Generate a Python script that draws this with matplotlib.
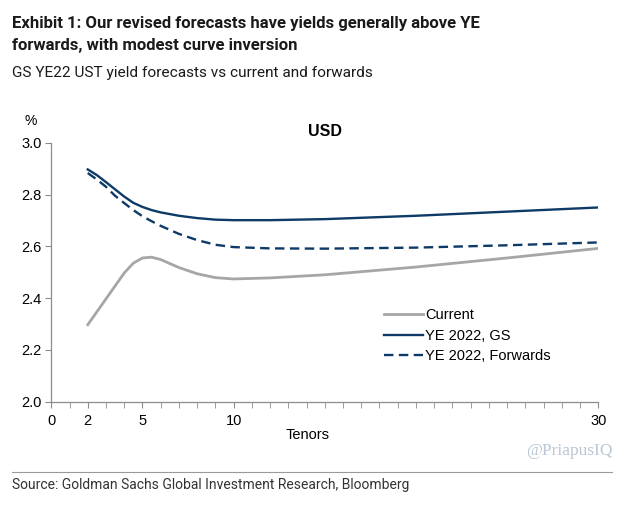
import matplotlib
matplotlib.use("Agg")
import matplotlib.pyplot as plt
from matplotlib.ticker import MultipleLocator

# ── Data ──────────────────────────────────────────────────────────────────────
tenors   = [2, 2.5, 3, 3.5, 4, 4.5, 5, 5.5, 6, 7, 8, 9, 10, 12, 15, 20, 25, 30]
current  = [2.297, 2.347, 2.397, 2.447, 2.497, 2.535, 2.555, 2.558, 2.549,
            2.518, 2.494, 2.479, 2.474, 2.478, 2.490, 2.520, 2.555, 2.592]
ye22_gs  = [2.897, 2.875, 2.848, 2.820, 2.792, 2.768, 2.752, 2.740, 2.731,
            2.718, 2.709, 2.703, 2.701, 2.701, 2.705, 2.718, 2.734, 2.750]
ye22_fwd = [2.883, 2.858, 2.830, 2.795, 2.767, 2.740, 2.716, 2.697, 2.679,
            2.648, 2.624, 2.606, 2.597, 2.592, 2.591, 2.595, 2.604, 2.615]
xticks   = [0, 2, 5, 10, 30]
yticks   = [2.0, 2.2, 2.4, 2.6, 2.8, 3.0]

navy = "#0d3a66"
grey = "#a6a6a6"
head = ["Roboto", "DejaVu Sans"]
arial = ["Liberation Sans", "DejaVu Sans"]

fig = plt.figure(figsize=(6.3, 5.08), dpi=100)
ax = fig.add_axes([0.0814, 0.2093, 0.8683, 0.5097])

ax.plot(tenors, current, color=grey, lw=2.0, label="Current")
ax.plot(tenors, ye22_gs, color=navy, lw=1.7, label="YE 2022, GS")
ax.plot(tenors, ye22_fwd, color=navy, lw=1.7, ls=(0, (4, 2.3)), label="YE 2022, Forwards")

ax.set_xlim(0, 30)
ax.set_ylim(2.0, 3.0)
ax.set_xticks(xticks)
ax.set_xticklabels([str(t) for t in xticks], family=arial, fontsize=10.5)
ax.xaxis.set_minor_locator(MultipleLocator(1))
ax.set_yticks(yticks)
ax.set_yticklabels([f"{v:.1f}" for v in yticks], family=arial, fontsize=10.5)
for s in ["top", "right"]:
    ax.spines[s].set_visible(False)
for s in ["left", "bottom"]:
    ax.spines[s].set_color("#8c8c8c")
    ax.spines[s].set_linewidth(0.9)
ax.tick_params(axis="x", which="both", direction="out", length=4, color="#8c8c8c", pad=5)
ax.tick_params(axis="y", direction="out", length=4, color="#8c8c8c", pad=3)

ax.text(0.469, -0.129, "Tenors", transform=ax.transAxes, family=arial,
        fontsize=10.5, ha="center", va="center")
ax.text(-0.037, 1.084, "%", transform=ax.transAxes, family=arial, fontsize=10,
        ha="center", va="center")
ax.set_title("USD", family=arial, fontsize=11.5, fontweight="bold", pad=4.5,
             x=0.5)

ax.legend(loc="upper left", bbox_to_anchor=(0.594, 0.39), frameon=False,
          prop={"family": arial, "size": 10.5}, handlelength=2.7,
          handletextpad=0.15, labelspacing=0.46, borderpad=0)

# ── Header / footer text ──────────────────────────────────────────────────────
fig.text(0.019, 0.9449, "Exhibit 1: Our revised forecasts have yields generally above YE",
         family=head, fontsize=12, fontweight="bold", va="baseline", color="#1a1a1a")
fig.text(0.019, 0.9016, "forwards, with modest curve inversion",
         family=head, fontsize=12, fontweight="bold", va="baseline", color="#1a1a1a")
fig.text(0.019, 0.8484, "GS YE22 UST yield forecasts vs current and forwards",
         family=head, fontsize=11.1, va="baseline", color="#1a1a1a")

fig.text(0.973, 0.112, "@PriapusIQ", family=["Liberation Serif", "DejaVu Serif"],
         fontsize=12.5, color="#b9c6d4", ha="right", va="center")
fig.add_artist(plt.Line2D([0.019, 0.972], [0.071, 0.071], color="#9a9a9a", lw=0.8))
fig.text(0.019, 0.0374, "Source: Goldman Sachs Global Investment Research, Bloomberg",
         family=head, fontsize=10.0, va="baseline", color="#333333")

fig.savefig("out.png", dpi=100)
